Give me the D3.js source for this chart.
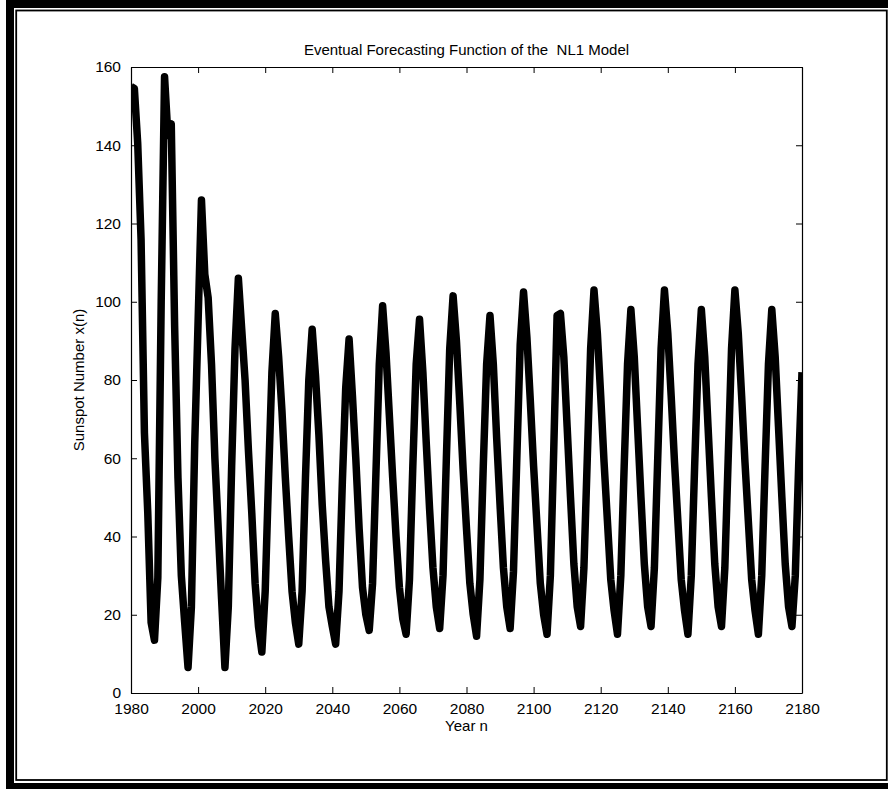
<!DOCTYPE html>
<html>
<head>
<meta charset="utf-8">
<script src="https://cdn.jsdelivr.net/npm/d3@7"></script>
<style>
  html, body { margin: 0; padding: 0; background: #fff; }
  svg { display: block; }
  text { font-family: "Liberation Sans", Arial, Helvetica, sans-serif; fill: #000; white-space: pre; }
</style>
</head>
<body>
<svg id="chart" width="888" height="789"></svg>
<script>
// ---- data ----
const years = d3.range(1980, 2181);
const sunspots = [
  155, 154.5, 140.5, 116, 66.5, 46, 18, 13.5, 29.5, 100,        // 1980-1989
  157.5, 142.5, 145.5, 94, 55, 30, 18, 6.5, 22, 64,             // 1990-1999
  95, 126, 107, 101, 84, 60, 42, 24, 6.5, 22,                   // 2000-2009
  58, 88, 106, 93, 80, 62, 46, 28, 17, 10.5,                    // 2010-2019
  26, 55, 82, 97, 86, 72, 55, 40, 26, 18,                       // 2020-2029
  12.5, 26, 55, 80, 93, 81, 66, 48, 34, 22,                     // 2030-2039
  17, 12.5, 26, 54, 78, 90.5, 76, 60, 42, 27,                   // 2040-2049
  20, 16, 28, 56, 84, 99, 87, 71, 55, 40,                       // 2050-2059
  27, 19, 15, 29, 58, 84, 95.5, 82, 64, 47,                     // 2060-2069
  32, 22, 16.5, 30, 60, 88, 101.5, 90, 74, 57,                  // 2070-2079
  42, 28, 20, 14.5, 29, 58, 84, 96.5, 84, 65,                   // 2080-2089
  48, 32, 22, 16.5, 31, 60, 89, 102.5, 91, 75,                  // 2090-2099
  58, 43, 28, 20, 15, 30, 62, 96.5, 97, 86,                     // 2100-2109
  68, 50, 33, 22, 17, 32, 60, 88, 103, 92,                      // 2110-2119
  76, 59, 44, 29, 21, 15, 30, 58, 84, 98,                       // 2120-2129
  86, 68, 50, 33, 22, 17, 32, 60, 88, 103,                      // 2130-2139
  92, 76, 59, 44, 29, 21, 15, 30, 58, 84,                       // 2140-2149
  98, 86, 68, 50, 33, 22, 17, 32, 60, 88,                       // 2150-2159
  103, 92, 76, 59, 44, 29, 21, 15, 30, 58,                      // 2160-2169
  84, 98, 86, 68, 50, 33, 22, 17, 30, 58,                       // 2170-2179
  82                                                            // 2180
];
const xTicks = [1980, 2000, 2020, 2040, 2060, 2080, 2100, 2120, 2140, 2160, 2180];
const yTicks = [0, 20, 40, 60, 80, 100, 120, 140, 160];
const titleText = "Eventual Forecasting Function of the  NL1 Model";
const xLabelText = "Year n";
const yLabelText = "Sunspot Number x(n)";

// ---- layout ----
const svg = d3.select("#chart");
const L = 131, R = 802, T = 67, B = 693;
const x = d3.scaleLinear().domain([1980, 2180]).range([L, R]);
const y = d3.scaleLinear().domain([0, 160]).range([B, T]);

// frame
svg.append("rect").attr("x", 6).attr("y", 0).attr("width", 882).attr("height", 8).attr("fill", "#000");
svg.append("rect").attr("x", 6).attr("y", 0).attr("width", 8).attr("height", 789).attr("fill", "#000");
svg.append("rect").attr("x", 6).attr("y", 783).attr("width", 882).attr("height", 6).attr("fill", "#000");
svg.append("rect").attr("x", 16.2).attr("y", 10.5).attr("width", 870.6).attr("height", 769.5)
  .attr("fill", "none").attr("stroke", "#000").attr("stroke-width", 1.8);

// clip
svg.append("clipPath").attr("id", "plotclip").append("rect")
  .attr("x", L).attr("y", T).attr("width", R - L).attr("height", B - T);

// data line
const line = d3.line().x((d, i) => x(years[i])).y(d => y(d));
svg.append("path").datum(sunspots)
  .attr("clip-path", "url(#plotclip)")
  .attr("fill", "none").attr("stroke", "#000")
  .attr("stroke-width", 7.5).attr("stroke-linejoin", "round").attr("stroke-linecap", "butt")
  .attr("d", line);

// axes (MATLAB-style box with inward ticks)
const fs = 15.5;
const axB = svg.append("g").attr("transform", `translate(0,${B})`)
  .call(d3.axisBottom(x).tickValues(xTicks).tickFormat(d3.format("d")).tickSizeInner(-6).tickSizeOuter(0).tickPadding(10));
const axT = svg.append("g").attr("transform", `translate(0,${T})`)
  .call(d3.axisTop(x).tickValues(xTicks).tickFormat("").tickSizeInner(-6).tickSizeOuter(0));
const axL = svg.append("g").attr("transform", `translate(${L},0)`)
  .call(d3.axisLeft(y).tickValues(yTicks).tickFormat(d3.format("d")).tickSizeInner(-6).tickSizeOuter(0).tickPadding(10));
const axR = svg.append("g").attr("transform", `translate(${R},0)`)
  .call(d3.axisRight(y).tickValues(yTicks).tickFormat("").tickSizeInner(-6).tickSizeOuter(0));
[axB, axT, axL, axR].forEach(g => {
  g.select(".domain").attr("stroke", "#000").attr("stroke-width", 1.2);
  g.selectAll(".tick line").attr("stroke", "#000").attr("stroke-width", 1);
  g.selectAll("text").attr("font-family", "Liberation Sans, Arial, sans-serif").attr("font-size", fs).attr("fill", "#000");
});

// titles
svg.append("text").attr("x", (L + R) / 2).attr("y", 55).attr("text-anchor", "middle")
  .attr("font-size", 15).text(titleText);
svg.append("text").attr("x", (L + R) / 2).attr("y", 731).attr("text-anchor", "middle")
  .attr("font-size", 15).text(xLabelText);
svg.append("text").attr("transform", `translate(84,${(T + B) / 2}) rotate(-90)`).attr("text-anchor", "middle")
  .attr("font-size", 15).text(yLabelText);
</script>
</body>
</html>
